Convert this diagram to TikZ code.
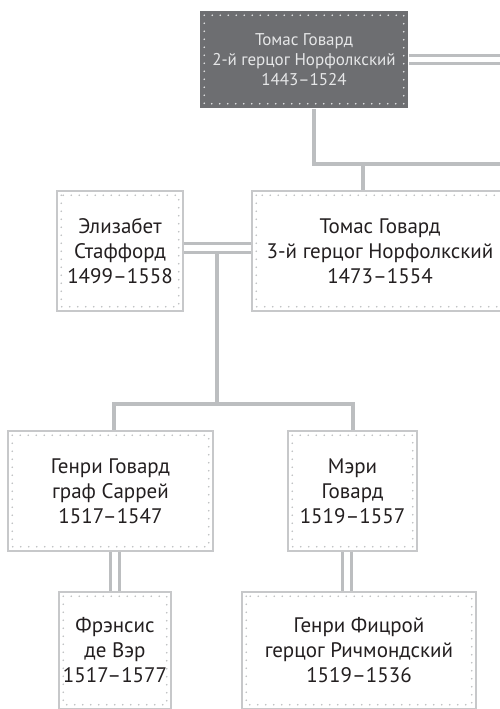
\documentclass[tikz,border=0pt]{standalone}
\usepackage{fontspec}
\setmainfont{PT Sans}
\usetikzlibrary{positioning}

\definecolor{linegray}{HTML}{BCBEC0}
\definecolor{framegray}{HTML}{C7C8CA}
\definecolor{darkbox}{HTML}{6D6E71}
\definecolor{inkgray}{HTML}{231F20}
\definecolor{dotwhite}{HTML}{E6E7E8}

\tikzset{
  person/.style={draw=framegray, line width=1.5pt, fill=white, align=center,
    text=inkgray, inner sep=0pt, font=\fontsize{21}{25}\selectfont},
  headperson/.style={person, draw=none, fill=darkbox, text=dotwhite,
    font=\fontsize{17}{20}\selectfont},
  dotframe/.style={line width=1.8pt, line cap=round, dash pattern=on 0pt off 8pt},
  bond/.style={draw=linegray, line width=4pt},
  marriage/.style={draw=linegray, line width=3pt, double=white, double distance=5.5pt},
}

\begin{document}
\begin{tikzpicture}[x=1pt,y=-1pt]
  \useasboundingbox (0,0) rectangle (500,709);
  \clip (0,0) rectangle (500,709);

  % people
  \node[headperson, minimum width=208pt, minimum height=97pt] (top) at (304,59.5)
    {Томас Говард\\2-й герцог Норфолкский\\1443–1524};
  \node[person, minimum width=126pt, minimum height=120pt] (eliz) at (120,251)
    {Элизабет\\Стаффорд\\1499–1558};
  \node[person, minimum width=256pt, minimum height=120pt] (duke) at (380,251)
    {Томас Говард\\3-й герцог Норфолкский\\1473–1554};
  \node[person, minimum width=205pt, minimum height=120pt] (henry) at (110.5,491)
    {Генри Говард\\граф Саррей\\1517–1547};
  \node[person, minimum width=129pt, minimum height=120pt] (mary) at (352.5,491)
    {Мэри\\Говард\\1519–1557};
  \node[person, minimum width=112pt, minimum height=117pt] (frances) at (115,650.5)
    {Фрэнсис\\де Вэр\\1517–1577};
  \node[person, minimum width=234pt, minimum height=117pt] (fitzroy) at (359,650.5)
    {Генри Фицрой\\герцог Ричмондский\\1519–1536};

  % dotted inner frames
  \draw[dotframe, dotwhite] ([xshift=5pt,yshift=-5pt]top.north west)
    rectangle ([xshift=-5pt,yshift=5pt]top.south east);
  \foreach \who in {eliz,duke,henry,mary,frances,fitzroy}
    \draw[dotframe, linegray] ([xshift=5pt,yshift=-5pt]\who.north west)
      rectangle ([xshift=-5pt,yshift=5pt]\who.south east);

  % junctions
  \coordinate (offR) at (510,0);
  \coordinate (k1) at (314,164);
  \coordinate (k2) at (363,164);
  \coordinate (m1) at (217,248);
  \coordinate (k3) at (217,404);
  \coordinate (kh) at (114,404);

  % lines
  \draw[marriage] (top.east) -- (top.east -| offR);
  \draw[bond] (top.south -| k1) -- (k1) -- (k1 -| offR);
  \draw[bond] (k2) -- (k2 |- duke.north);
  \draw[bond] (m1) -- (k3);
  \draw[marriage] (eliz.east |- m1) -- (duke.west |- m1);
  \draw[bond] (mary.north) -- (mary.north |- k3) -- (kh) -- (kh |- henry.north);
  \draw[marriage] (frances.north |- henry.south) -- (frances.north);
  \draw[marriage] ([xshift=-5.5pt]mary.south) -- ([xshift=-5.5pt]mary.south |- fitzroy.north);
\end{tikzpicture}
\end{document}
